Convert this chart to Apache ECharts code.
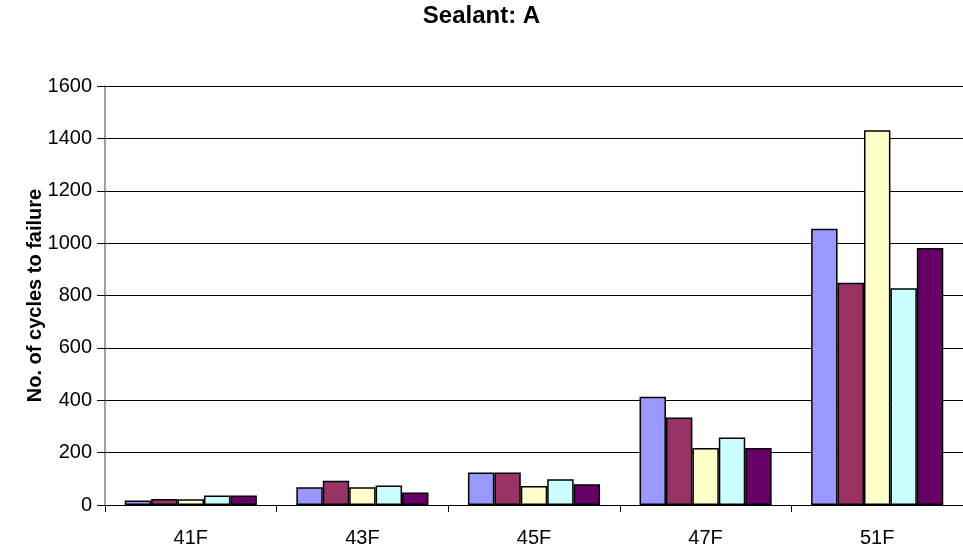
<!DOCTYPE html>
<html>
<head>
<meta charset="utf-8">
<script src="https://cdn.jsdelivr.net/npm/echarts@6/dist/echarts.min.js"></script>
<style>html,body{margin:0;padding:0;background:#fff;}#c{width:963px;height:550px;}</style>
</head>
<body>
<div id="c"></div>
<script>
const categories = ['41F', '43F', '45F', '47F', '51F'];
const series1 = [17, 68, 124, 413, 1055];
const series2 = [23, 93, 124, 334, 849];
const series3 = [22, 68, 73, 218, 1431];
const series4 = [36, 74, 98, 258, 828];
const series5 = [36, 48, 79, 218, 981];
const colors = ['#9999FF', '#993366', '#FFFFCC', '#CCFFFF', '#660066'];
const allSeries = [series1, series2, series3, series4, series5];

const chart = echarts.init(document.getElementById('c'));
const font = 'Arial, "Liberation Sans", sans-serif';
chart.setOption({
  animation: false,
  title: {
    text: 'Sealant: A', left: 'center', top: -1,
    textStyle: { fontFamily: font, fontSize: 24, fontWeight: 'bold', color: '#000' }
  },
  grid: { left: 105, right: -9, top: 86, bottom: 45 },
  xAxis: {
    type: 'category', data: categories,
    axisLine: { lineStyle: { color: '#000', width: 1 } },
    axisTick: { show: true, alignWithLabel: false, length: 7, lineStyle: { color: '#000' } },
    axisLabel: { fontFamily: font, fontSize: 20, color: '#000', margin: 23 }
  },
  yAxis: {
    type: 'value', min: 0, max: 1600, interval: 200,
    name: 'No. of cycles to failure', nameLocation: 'middle', nameGap: 60,
    nameMoveOverlap: false,
    nameTextStyle: { fontFamily: font, fontSize: 20, fontWeight: 'bold', color: '#000' },
    axisLine: { show: true, lineStyle: { color: '#808080', width: 1.5 } },
    axisTick: { show: true, length: 8, lineStyle: { color: '#000' } },
    axisLabel: { fontFamily: font, fontSize: 20, color: '#000', margin: 13, formatter: v => String(v) },
    splitLine: { show: true, lineStyle: { color: '#000', width: 1 } }
  },
  series: allSeries.map((d, i) => ({
    type: 'bar', name: 'Series' + (i + 1), data: d,
    barGap: '0%', barCategoryGap: '23%',
    itemStyle: { color: colors[i], borderColor: '#000', borderWidth: 1.5 }
  }))
});
</script>
</body>
</html>
